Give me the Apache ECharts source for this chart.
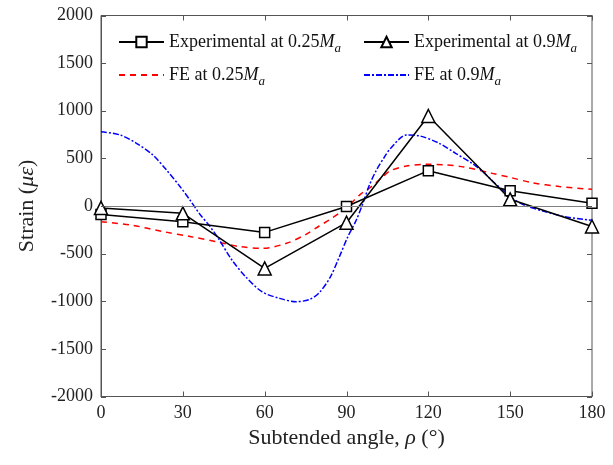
<!DOCTYPE html>
<html>
<head>
<meta charset="utf-8">
<title>Strain vs subtended angle</title>
<script src="https://cdn.jsdelivr.net/npm/echarts@6/dist/echarts.min.js"></script>
<style>
  html, body { margin: 0; padding: 0; background: #fff; }
  #chart { width: 613px; height: 465px; }
</style>
</head>
<body>
<div id="chart"></div>
<script>
// experimental gauges
var angles = [0, 30, 60, 90, 120, 150, 180];
var exp025 = [-90, -165, -277, -5, 371, 161, 28];
var exp09 = [-20, -77, -655, -175, 945, 70, -215];

// FE curves (angle, strain)
var fe025Angles = [0, 11, 23, 33, 44, 51, 59, 68, 75, 80, 84, 88, 91, 95, 98.5, 103, 106, 112, 119, 126, 133, 143, 150, 158, 168, 180];
var fe025 = [-165, -200, -270, -322, -385, -427, -445, -392, -300, -210, -140, -60, 10, 120, 190, 300, 370, 420, 438, 432, 410, 345, 300, 245, 205, 175];

var fe09Angles = [0, 7, 13, 19, 24, 29, 32.6, 36, 40, 43, 48, 53, 59, 65.5, 71.5, 76.5, 80, 84, 87.4, 90.5, 93.6, 96, 98.4, 101, 104, 106, 112, 117, 124, 130, 136, 140, 144, 147, 151, 156, 163, 170, 180];
var fe09 = [780, 746, 658, 536, 378, 203, 63, -77, -217, -340, -567, -742, -900, -970, -1005, -980, -910, -750, -532, -322, -147, 28, 220, 378, 518, 600, 746, 735, 658, 553, 448, 360, 250, 175, 75, 0, -60, -112, -150];

var xTicks = [0, 30, 60, 90, 120, 150, 180];
var yTicks = [-2000, -1500, -1000, -500, 0, 500, 1000, 1500, 2000];

function pairs(xs, ys) {
  var out = [];
  for (var i = 0; i < xs.length; i++) out.push([xs[i], ys[i]]);
  return out;
}

var FONT = 'Liberation Serif';
var axisColor = '#555';
var TICK = 5;

var rich = {
  n: { fontFamily: FONT, fontSize: 18, color: '#111' },
  m: { fontFamily: FONT, fontSize: 18, fontStyle: 'italic', color: '#111' },
  s: { fontFamily: FONT, fontSize: 13, fontStyle: 'italic', color: '#111', padding: [14, 0, 0, 0] }
};

function legendLabel(name) {
  // "Experimental at 0.25Ma" -> text + italic M + subscript a
  var base = name.slice(0, name.length - 2);
  return '{n|' + base + '}{m|M}{s|a}';
}

function makeLegend(name, left, top, noSymbol) {
  var lg = {
    data: [name],
    left: left,
    top: top,
    itemWidth: 45,
    itemHeight: 13,
    itemGap: 5,
    padding: 0,
    formatter: legendLabel,
    textStyle: { rich: rich, fontFamily: FONT, fontSize: 18 }
  };
  if (noSymbol) lg.itemStyle = { opacity: 0 };
  return lg;
}

var chart = echarts.init(document.getElementById('chart'));
var option = {
  backgroundColor: '#fff',
  animation: false,
  grid: { left: 101, right: 21, top: 15.5, bottom: 68.5, show: true, borderColor: axisColor, borderWidth: 1 },
  legend: [
    makeLegend('Experimental at 0.25Ma', 118, 33, false),
    makeLegend('Experimental at 0.9Ma', 363, 33, false),
    makeLegend('FE at 0.25Ma', 118, 66, true),
    makeLegend('FE at 0.9Ma', 363, 66, true)
  ],
  xAxis: {
    type: 'value', min: 0, max: 180, interval: 30,
    name: 'Subtended angle, {i|ρ} (°)',
    nameLocation: 'middle', nameGap: 30,
    nameTextStyle: {
      fontFamily: FONT, fontSize: 22, color: '#222',
      rich: { i: { fontFamily: FONT, fontSize: 22, fontStyle: 'italic', color: '#222' } }
    },
    axisLine: { onZero: false, lineStyle: { color: axisColor, width: 1 } },
    axisTick: { show: false },
    axisLabel: { fontFamily: FONT, fontSize: 18, color: '#222', margin: 8,
      formatter: function (v) { return xTicks.indexOf(v) >= 0 ? String(v) : ''; } },
    splitLine: { show: false }
  },
  yAxis: {
    type: 'value', min: -2000, max: 2000, interval: 500,
    name: 'Strain ({i|με})',
    nameLocation: 'middle', nameGap: 63,
    nameTextStyle: {
      fontFamily: FONT, fontSize: 22, color: '#222',
      rich: { i: { fontFamily: FONT, fontSize: 22, fontStyle: 'italic', color: '#222' } }
    },
    axisLine: { show: true, onZero: false, lineStyle: { color: axisColor, width: 1 } },
    axisTick: { show: false },
    axisLabel: { fontFamily: FONT, fontSize: 18, color: '#222', margin: 8,
      formatter: function (v) { return yTicks.indexOf(v) >= 0 ? String(v) : ''; } },
    splitLine: { show: false }
  },
  series: [
    {
      name: 'FE at 0.25Ma', type: 'line', smooth: 0.3, symbol: 'none',
      data: pairs(fe025Angles, fe025),
      lineStyle: { color: '#ff0000', width: 1.5, type: [6, 5] },
      itemStyle: { color: '#ff0000' },
      z: 2
    },
    {
      name: 'FE at 0.9Ma', type: 'line', smooth: 0.3, symbol: 'none',
      data: pairs(fe09Angles, fe09),
      lineStyle: { color: '#0000ff', width: 1.5, type: [6, 2, 2, 2] },
      itemStyle: { color: '#0000ff' },
      z: 2
    },
    {
      name: 'Experimental at 0.25Ma', type: 'line', symbol: 'rect', symbolSize: 10,
      data: pairs(angles, exp025),
      lineStyle: { color: '#000', width: 1.5 },
      itemStyle: { color: '#fff', borderColor: '#000', borderWidth: 1.5 },
      markLine: {
        silent: true, symbol: 'none', label: { show: false },
        lineStyle: { color: '#808080', width: 1, type: 'solid' },
        data: [{ yAxis: 0 }]
      },
      z: 3
    },
    {
      name: 'Experimental at 0.9Ma', type: 'line', symbol: 'triangle', symbolSize: 13,
      data: pairs(angles, exp09),
      lineStyle: { color: '#000', width: 1.5 },
      itemStyle: { color: '#fff', borderColor: '#000', borderWidth: 1.5 },
      z: 3
    }
  ]
};
chart.setOption(option);

// inward ticks on all four sides of the box, placed through the chart's own scales
var ticks = [];
function tickLine(x1, y1, x2, y2) {
  ticks.push({
    type: 'line', silent: true, z: 10,
    shape: { x1: x1, y1: y1, x2: x2, y2: y2 },
    style: { stroke: axisColor, lineWidth: 1 }
  });
}
xTicks.forEach(function (v) {
  var b = chart.convertToPixel({ gridIndex: 0 }, [v, -2000]);
  var t = chart.convertToPixel({ gridIndex: 0 }, [v, 2000]);
  var x = Math.round(b[0]) + 0.5;
  tickLine(x, b[1], x, b[1] - TICK);
  tickLine(x, t[1], x, t[1] + TICK);
});
yTicks.forEach(function (v) {
  var l = chart.convertToPixel({ gridIndex: 0 }, [0, v]);
  var r = chart.convertToPixel({ gridIndex: 0 }, [180, v]);
  var y = Math.round(l[1]) + 0.5;
  tickLine(l[0], y, l[0] + TICK, y);
  tickLine(r[0], y, r[0] - TICK, y);
});
chart.setOption({ graphic: ticks });
</script>
</body>
</html>
